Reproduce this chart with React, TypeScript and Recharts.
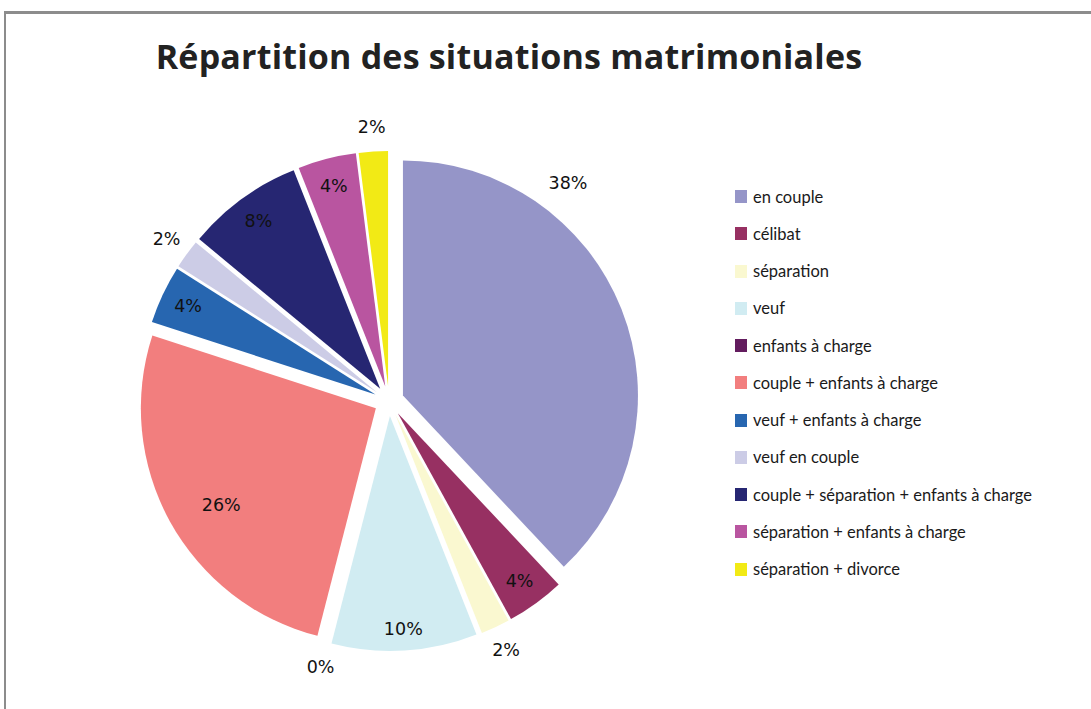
import { Legend, Pie, PieChart, Sector } from "recharts";

const categories = [
  "en couple",
  "célibat",
  "séparation",
  "veuf",
  "enfants à charge",
  "couple + enfants à charge",
  "veuf + enfants à charge",
  "veuf en couple",
  "couple + séparation + enfants à charge",
  "séparation + enfants à charge",
  "séparation + divorce",
];

const shares = [38, 4, 2, 10, 0, 26, 4, 2, 8, 4, 2];

const colors = [
  "#9595C8",
  "#973062",
  "#FAF8D0",
  "#D1ECF2",
  "#631C5E",
  "#F27E7E",
  "#2766B0",
  "#CCCCE6",
  "#262672",
  "#B955A0",
  "#F2EA15",
];

const chartData = categories.map((name, i) => ({ name, value: shares[i] }));

const RADIAN = Math.PI / 180;
const EXPLODE = 15;

// excel "best fit": small slices get their label outside, the big one is pushed up
const labelSpot = (value: number, index: number) => {
  if (index === 0) return { r: 1.2, shift: 29 };
  if (value <= 2) return { r: 1.17, shift: 0 };
  if (index === 5) return { r: 0.84, shift: 3 };
  if (index === 3) return { r: 0.97, shift: 0 };
  return { r: 0.945, shift: 0 };
};

const renderSlice = (props: any) => {
  const { cx, cy, midAngle, outerRadius, startAngle, endAngle, index, value } =
    props;
  const ox = cx + EXPLODE * Math.cos(-midAngle * RADIAN);
  const oy = cy + EXPLODE * Math.sin(-midAngle * RADIAN);
  const spot = labelSpot(value, index);
  const a = (midAngle + spot.shift) * RADIAN;
  const lx = cx + outerRadius * spot.r * Math.cos(-a);
  const ly = cy + outerRadius * spot.r * Math.sin(-a);

  return (
    <g key={`slice-${index}`}>
      <Sector
        cx={ox}
        cy={oy}
        innerRadius={0}
        outerRadius={outerRadius}
        startAngle={startAngle}
        endAngle={endAngle}
        fill={colors[index]}
        stroke="none"
      />
      <text
        x={lx}
        y={ly}
        textAnchor="middle"
        dominantBaseline="central"
        fill="#111"
        style={{ fontFamily: "'DejaVu Sans', sans-serif", fontSize: 17.5 }}
      >
        {`${value}%`}
      </text>
    </g>
  );
};

// legend keeps the data order (recharts would sort it by name)
const renderLegend = () => (
  <ul style={{ listStyle: "none", margin: 0, padding: 0 }}>
    {categories.map((name, i) => (
      <li
        key={`leg-${i}`}
        style={{ height: 37.25, display: "flex", alignItems: "center" }}
      >
        <span
          style={{
            width: 12,
            height: 13,
            background: colors[i],
            marginRight: 6,
            display: "inline-block",
          }}
        />
        <span
          style={{
            fontFamily: "Lato, sans-serif",
            fontSize: 16.5,
            color: "#1a1a1a",
            whiteSpace: "nowrap",
          }}
        >
          {name}
        </span>
      </li>
    ))}
  </ul>
);

const App = () => {
  return (
    <div
      style={{
        position: "absolute",
        left: 0,
        top: 0,
        width: 1091,
        height: 709,
        background: "#fff",
        overflow: "hidden",
      }}
    >
      <div
        style={{
          position: "absolute",
          left: 4,
          top: 11,
          width: 1200,
          height: 800,
          borderTop: "3px solid #8c8c8c",
          borderLeft: "2px solid #8c8c8c",
        }}
      />
      <div
        style={{
          position: "absolute",
          left: 0,
          top: 37,
          width: 1018,
          textAlign: "center",
          fontFamily: "'Open Sans', sans-serif",
          fontWeight: 700,
          fontSize: 34,
          letterSpacing: 0.2,
          lineHeight: "38px",
          color: "#222",
        }}
      >
        Répartition des situations matrimoniales
      </div>
      <div style={{ position: "absolute", left: 0, top: 0 }}>
        <PieChart
          width={1091}
          height={709}
          margin={{ top: 0, right: 0, bottom: 0, left: 0 }}
        >
          <Pie
            data={chartData}
            dataKey="value"
            nameKey="name"
            cx={389}
            cy={401}
            outerRadius={235}
            startAngle={90}
            endAngle={-270}
            fill="none"
            stroke="none"
            label={renderSlice}
            labelLine={false}
            isAnimationActive={false}
          />
          <Legend
            layout="vertical"
            align="right"
            verticalAlign="top"
            content={renderLegend}
            wrapperStyle={{ left: 735, top: 178, width: 340 }}
          />
        </PieChart>
      </div>
    </div>
  );
};

export default App;
